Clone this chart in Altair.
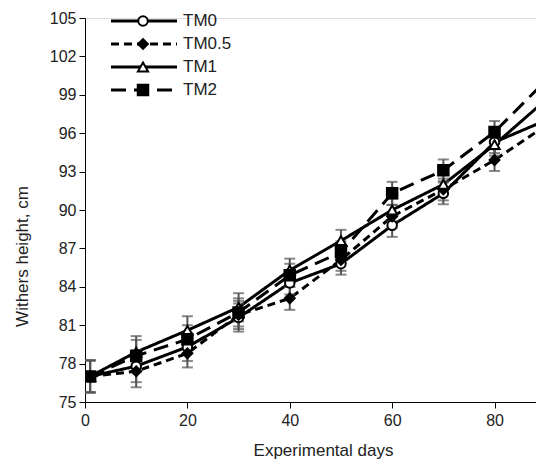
import altair as alt
import pandas as pd

days = [1, 10, 20, 30, 40, 50, 60, 70, 80, 90]
series = ["TM0", "TM0.5", "TM1", "TM2"]
tm0 = [77.0, 77.8, 79.3, 81.6, 84.3, 85.8, 88.8, 91.3, 95.3, 97.0]
tm05 = [77.0, 77.4, 78.8, 81.8, 83.1, 86.1, 89.5, 91.6, 93.9, 96.6]
tm1 = [77.0, 78.9, 80.6, 82.4, 85.3, 87.6, 90.0, 92.0, 95.1, 98.6]
tm2 = [77.0, 78.6, 79.9, 82.0, 84.9, 86.7, 91.3, 93.1, 96.1, 100.1]
se = [1.25, 1.25, 1.1, 1.1, 0.9, 0.85, 0.9, 0.85, 0.85, 0.9]
x_ticks = [0, 20, 40, 60, 80]
y_ticks = [75, 78, 81, 84, 87, 90, 93, 96, 99, 102, 105]

rows = []
for name, vals in zip(series, [tm0, tm05, tm1, tm2]):
    for d, v, s in zip(days, vals, se):
        rows.append({"series": name, "day": d, "value": v, "lo": v - s, "hi": v + s})
df = pd.DataFrame(rows)
leg = pd.DataFrame({"series": series, "idx": list(range(len(series)))})

FONT = "Liberation Sans"
dash_scale = alt.Scale(domain=series, range=[[1, 0], [8, 5], [1, 0], [15, 8]])
shape_scale = alt.Scale(domain=series, range=["circle", "diamond", "triangle-up", "square"])
fill_scale = alt.Scale(domain=series, range=["white", "black", "white", "black"])
size_scale = alt.Scale(domain=series, range=[90, 110, 80, 120])

xs = alt.Scale(domain=[0, 88.1], nice=False, zero=False)
ys = alt.Scale(domain=[75, 105], nice=False, zero=False)

x_axis = alt.Axis(values=x_ticks, title="Experimental days", labelPadding=4,
                  titleX=238, titleY=48, titleBaseline="middle")
y_axis = alt.Axis(values=y_ticks, title="Withers height, cm", labelPadding=3,
                  titleX=-63, titleY=238, titleBaseline="middle")
X = alt.X("day:Q", scale=xs, axis=x_axis)
Y = alt.Y("value:Q", scale=ys, axis=y_axis)

base = alt.Chart(df)
lines = base.mark_line(color="black", strokeWidth=3, clip=True).encode(
    x=X, y=Y,
    strokeDash=alt.StrokeDash("series:N", scale=dash_scale, legend=None),
    detail="series:N")
err = base.mark_rule(color="#555", strokeWidth=2, clip=True).encode(
    x=X, y=alt.Y("lo:Q", scale=ys, axis=y_axis), y2="hi:Q")
cap_lo = base.mark_tick(color="#555", thickness=2, size=11, orient="horizontal", clip=True).encode(
    x=X, y=alt.Y("lo:Q", scale=ys, axis=y_axis))
cap_hi = base.mark_tick(color="#555", thickness=2, size=11, orient="horizontal", clip=True).encode(
    x=X, y=alt.Y("hi:Q", scale=ys, axis=y_axis))
pts = base.mark_point(filled=False, stroke="black", strokeWidth=2, opacity=1, clip=True).encode(
    x=X, y=Y,
    shape=alt.Shape("series:N", scale=shape_scale, legend=None),
    fill=alt.Fill("series:N", scale=fill_scale, legend=None),
    size=alt.Size("series:N", scale=size_scale, legend=None))

lb = alt.Chart(leg).transform_calculate(
    ly="3 + 23 * datum.idx", lx1="26", lx2="92", lxm="58", lxt="98")
leg_lines = lb.mark_rule(color="black", strokeWidth=3).encode(
    x=alt.X("lx1:Q", scale=None), x2="lx2:Q", y=alt.Y("ly:Q", scale=None),
    strokeDash=alt.StrokeDash("series:N", scale=dash_scale, legend=None))
leg_pts = lb.mark_point(filled=False, stroke="black", strokeWidth=2, opacity=1).encode(
    x=alt.X("lxm:Q", scale=None), y=alt.Y("ly:Q", scale=None),
    shape=alt.Shape("series:N", scale=shape_scale, legend=None),
    fill=alt.Fill("series:N", scale=fill_scale, legend=None),
    size=alt.Size("series:N", scale=size_scale, legend=None))
leg_txt = lb.mark_text(align="left", baseline="middle", font=FONT, fontSize=17, color="#222").encode(
    x=alt.X("lxt:Q", scale=None), y=alt.Y("ly:Q", scale=None), text="series:N")

chart = alt.layer(lines, err, cap_lo, cap_hi, pts, leg_lines, leg_pts, leg_txt).properties(
    width=451, height=384,
    autosize=alt.AutoSizeParams(type="none"),
    padding={"left": 77, "top": 10, "right": 0, "bottom": 62},
).configure_view(strokeWidth=0, stroke="transparent").configure(background="white").configure_axis(
    grid=False, domainColor="black", tickColor="black", tickSize=6,
    labelFontSize=16, labelFont=FONT, labelColor="#222", labelOverlap=False,
    labelFlush=False, titleFont=FONT, titleFontSize=17, titleFontWeight="normal",
    titleColor="#222")

chart.save("out.html", embed_options={"renderer": "svg", "actions": False})
